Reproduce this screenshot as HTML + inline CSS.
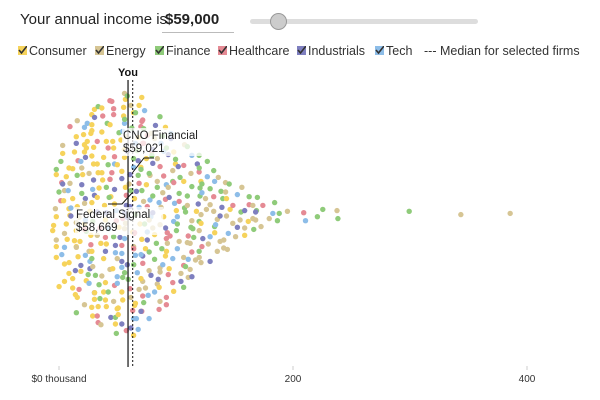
<!DOCTYPE html>
<html><head><meta charset="utf-8"><style>
body{margin:0;background:#fff;font-family:"Liberation Sans",sans-serif;}
#wrap{position:relative;width:600px;height:400px;overflow:hidden;}
.t{position:absolute;white-space:nowrap;}
.leg{position:absolute;top:44px;font-size:12.5px;color:#333;}
.ck{display:inline-block;width:9px;height:9px;margin-right:2px;position:relative;top:0px;}
</style></head><body>
<div id="wrap">
<div class="t" style="left:20px;top:11px;font-size:15px;color:#222">Your annual income is</div>
<div class="t" style="left:162px;top:11px;width:72px;font-size:15px;font-weight:bold;color:#222;border-bottom:1px solid #bbb;padding-bottom:4px;padding-left:3px;box-sizing:border-box">$59,000</div>
<div style="position:absolute;left:250px;top:19px;width:228px;height:5px;background:#ddd;border-radius:3px"></div>
<div style="position:absolute;left:270px;top:13px;width:15px;height:15px;border-radius:50%;background:#ccc;border:1.5px solid #999"></div>
<div class="leg" style="left:18px"><svg class="ck" viewBox="0 0 9 9"><rect width="9" height="9" fill="#f6d35b"/><path d="M1 4 L3.5 7 L9 0" stroke="#333" stroke-width="1.6" fill="none"/></svg>Consumer</div>
<div class="leg" style="left:95px"><svg class="ck" viewBox="0 0 9 9"><rect width="9" height="9" fill="#d6c594"/><path d="M1 4 L3.5 7 L9 0" stroke="#333" stroke-width="1.6" fill="none"/></svg>Energy</div>
<div class="leg" style="left:155px"><svg class="ck" viewBox="0 0 9 9"><rect width="9" height="9" fill="#8fcb7a"/><path d="M1 4 L3.5 7 L9 0" stroke="#333" stroke-width="1.6" fill="none"/></svg>Finance</div>
<div class="leg" style="left:218px"><svg class="ck" viewBox="0 0 9 9"><rect width="9" height="9" fill="#e58a94"/><path d="M1 4 L3.5 7 L9 0" stroke="#333" stroke-width="1.6" fill="none"/></svg>Healthcare</div>
<div class="leg" style="left:297px"><svg class="ck" viewBox="0 0 9 9"><rect width="9" height="9" fill="#7e7fbf"/><path d="M1 4 L3.5 7 L9 0" stroke="#333" stroke-width="1.6" fill="none"/></svg>Industrials</div>
<div class="leg" style="left:375px"><svg class="ck" viewBox="0 0 9 9"><rect width="9" height="9" fill="#8dbde8"/><path d="M1 4 L3.5 7 L9 0" stroke="#333" stroke-width="1.6" fill="none"/></svg>Tech</div>
<div class="leg" style="left:424px">--- Median for selected firms</div>
<svg id="svg" width="600" height="400" style="position:absolute;left:0;top:0"></svg>
</div>
<script>
const binStarts=[0,7,14,21,28,35,42,49,56,63,70,77,84,91,98,105,112,119,126,133,140,147,154,161,168,175,182,189,196,213,227,243,297,345,391];
const binCounts=[12,19,22,25,27,28,29,30,31,31,30,27,25,23,21,19,17,16,14,12,10,9,7,6,5,4,3,2,1,2,2,2,1,1,1];
const sectorColors=["#f6d35b","#d6c594","#8fcb7a","#e58a94","#7e7fbf","#8dbde8"];
const tickValues=[0,200,400];
const tickLabels=["$0 thousand","200","400"];
const yourIncome=59;
const medianIncome=63;
const ns="http://www.w3.org/2000/svg";
const svg=document.getElementById("svg");
const x=v=>59+v*1.17;
const cy=212;
function mk(tag,attrs){const e=document.createElementNS(ns,tag);for(const k in attrs)e.setAttribute(k,attrs[k]);svg.appendChild(e);return e;}
function hash(a,b){let h=(a*374761393+b*668265263)>>>0;h=((h^(h>>>13))*1274126177)>>>0;return h^(h>>>16);}
binStarts.forEach((b,ci)=>{
  const n=binCounts[ci];
  for(let j=0;j<n;j++){
    const h=hash(ci+1,j+1);
    const off=(j-(n-1)/2)*8;
    const jx=((h%7)-3)*0.9;
    const jy=(((h>>>4)%5)-2)*0.7+((ci%2)?4:0);
    let s=(h>>>8)%6;
    const r=(h>>>12)%10;
    if(b<60 && r<3) s=0;
    if(b>100 && r<4) s=(r%2)?1:2;
    const c=mk("circle",{cx:x(b)+jx,cy:cy+off+jy,r:2.7,fill:sectorColors[s]});
    
    
  }
});
tickValues.forEach((v,i)=>{
  const l=mk("line",{x1:x(v),x2:x(v),y1:366,y2:370,stroke:"#ccc"});
  
  
  const t=mk("text",{x:x(v),y:382,"font-size":"10","text-anchor":"middle",fill:"#333","font-family":"Liberation Sans, sans-serif"});
  t.textContent=tickLabels[i];
  
  
});
const yl=mk("line",{x1:x(yourIncome),x2:x(yourIncome),y1:80,y2:367,stroke:"#111","stroke-width":1.2});


const ml=mk("line",{x1:x(medianIncome),x2:x(medianIncome),y1:80,y2:367,stroke:"#111","stroke-width":1,"stroke-dasharray":"2,2"});


const yt=mk("text",{x:x(yourIncome),y:76,"font-size":"11","font-weight":"bold","text-anchor":"middle",fill:"#111","font-family":"Liberation Sans, sans-serif"});
yt.textContent="You";


function label(x0,y0,name,val,dn){
  const r=mk("rect",{x:x0-1,y:y0-11,width:name.length*6.3,height:28,fill:"#fff","fill-opacity":0.75});
  
  
  const a=mk("text",{x:x0,y:y0,"font-size":"11.5",fill:"#222","font-family":"Liberation Sans, sans-serif"});a.textContent=name;
  
  
  const b=mk("text",{x:x0,y:y0+13,"font-size":"11.5",fill:"#222","font-family":"Liberation Sans, sans-serif"});b.textContent=val;
  
  
}
label(123,139,"CNO Financial","$59,021","cno-financial-annotation");
label(76,218,"Federal Signal","$58,669","federal-signal-annotation");
const p1=mk("polyline",{points:"154,158 144,158 133,172",fill:"none",stroke:"#111","stroke-width":1});


const p2=mk("polyline",{points:"108,204 122,204 132,193",fill:"none",stroke:"#111","stroke-width":1});


</script>
</body></html>
